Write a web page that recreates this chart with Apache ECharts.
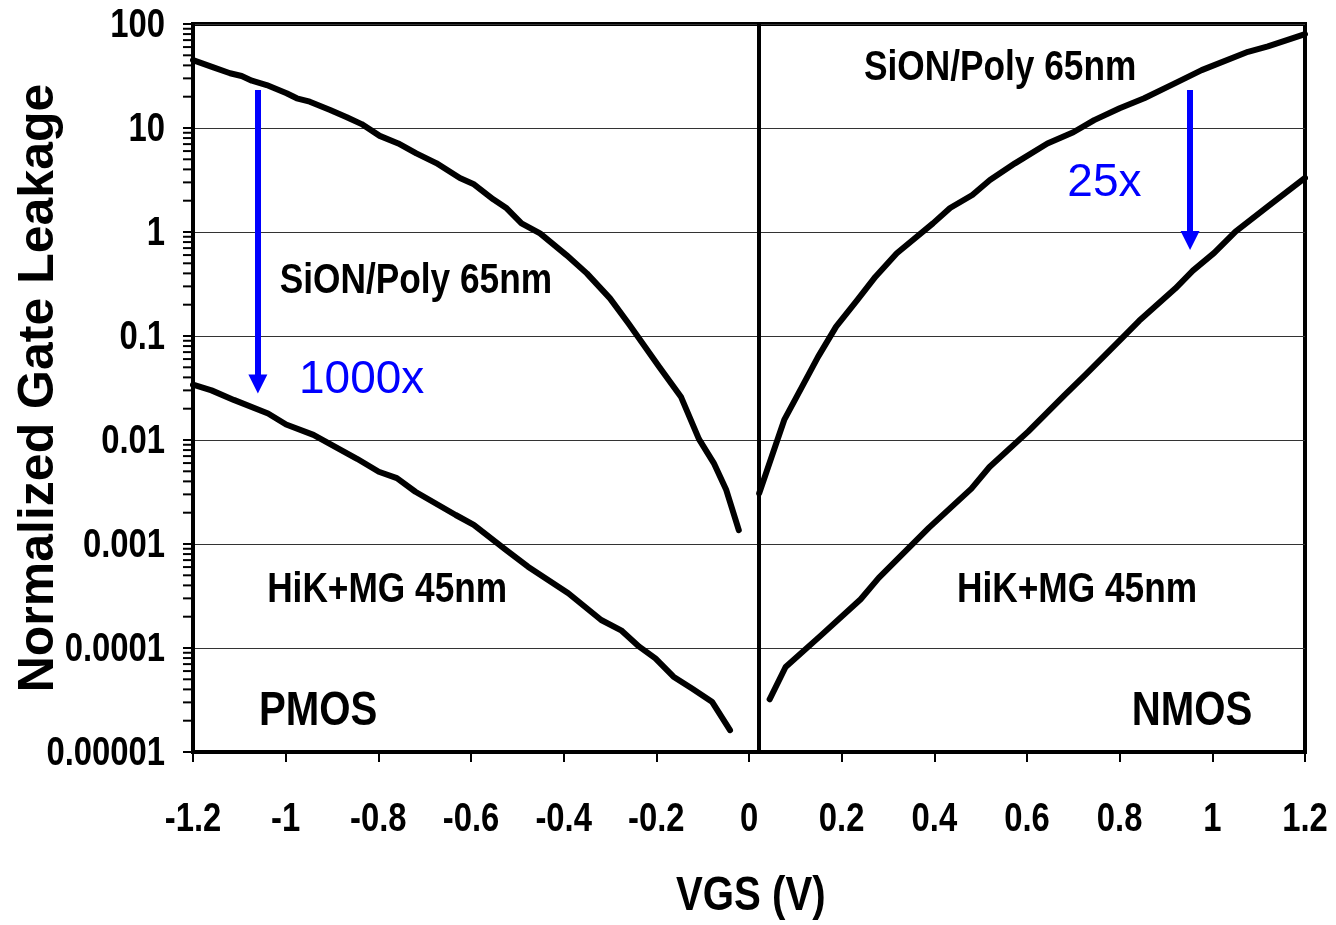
<!DOCTYPE html>
<html>
<head>
<meta charset="utf-8">
<title>Normalized Gate Leakage</title>
<script src="https://cdn.jsdelivr.net/npm/echarts@6/dist/echarts.min.js"></script>
<style>
  html, body { margin: 0; padding: 0; background: #fff; }
  #chart { width: 1336px; height: 925px; }
</style>
</head>
<body>
<div id="chart"></div>
<script>
// gate leakage vs VGS on a log scale, PMOS left half, NMOS right half

// axis tick labels
const xTickLabels = ['-1.2', '-1', '-0.8', '-0.6', '-0.4', '-0.2', '0', '0.2', '0.4', '0.6', '0.8', '1', '1.2']
const yTickLabels = ['0.00001', '0.0001', '0.001', '0.01', '0.1', '1', '10', '100']
// minor ticks inside each decade
const minorSteps = [2, 3, 4, 5, 6, 7, 8, 9]

// PMOS, SiON/Poly 65nm
const pmosSionVgs = [-1.2, -1.156, -1.12, -1.095, -1.073, -1.041, -0.998, -0.976, -0.948, -0.904, -0.868, -0.836,
    -0.797, -0.757, -0.718, -0.675, -0.624, -0.595, -0.552, -0.523, -0.491, -0.451, -0.394, -0.35, -0.3, -0.26,
    -0.194, -0.147, -0.108, -0.076, -0.049, -0.022]
const pmosSionLeak = [45, 38.3, 33.6, 31.6, 28.5, 25.9, 21.6, 19.3, 17.9, 14.9, 12.7, 10.9,
    8.4, 7.1, 5.7, 4.6, 3.3, 2.9, 2.06, 1.69, 1.21, 0.97, 0.6, 0.4, 0.23, 0.132,
    0.0507, 0.0261, 0.0102, 0.006, 0.0033, 0.00136]

// PMOS, HiK+MG 45nm
const pmosHikVgs = [-1.2, -1.16, -1.112, -1.038, -0.999, -0.94, -0.846, -0.799, -0.76, -0.72, -0.633, -0.594,
    -0.524, -0.477, -0.39, -0.319, -0.276, -0.237, -0.202, -0.163, -0.123, -0.08, -0.041]
const pmosHikLeak = [0.034, 0.03, 0.0243, 0.018, 0.0141, 0.0112, 0.0066, 0.00495, 0.0043, 0.00318, 0.0019, 0.00153,
    0.000875, 0.000605, 0.000336, 0.000186, 0.000148, 0.000103, 0.0000795, 0.000053, 0.0000408, 0.0000305, 0.0000162]

// NMOS, SiON/Poly 65nm
const nmosSionVgs = [0.022, 0.076, 0.103, 0.149, 0.188, 0.234, 0.273, 0.319, 0.397, 0.434, 0.482, 0.52, 0.574,
    0.644, 0.7, 0.745, 0.8, 0.853, 0.92, 0.977, 1.077, 1.12, 1.2]
const nmosSionLeak = [0.00307, 0.0156, 0.0261, 0.063, 0.123, 0.222, 0.372, 0.624, 1.21, 1.7, 2.27, 3.16, 4.57,
    7.1, 9.1, 11.9, 15.5, 19.3, 27, 36, 54, 61, 80]

// NMOS, HiK+MG 45nm
const nmosHikVgs = [0.0445, 0.079, 0.156, 0.241, 0.28, 0.388, 0.48, 0.519, 0.603, 0.68, 0.727, 0.804, 0.842,
    0.92, 0.958, 1.004, 1.05, 1.12, 1.2]
const nmosHikLeak = [0.0000321, 0.0000656, 0.000133, 0.000294, 0.000472, 0.00143, 0.00341, 0.0055, 0.0121, 0.0267,
    0.0428, 0.0944, 0.14, 0.286, 0.425, 0.63, 1.01, 1.76, 3.31]

const SANS = "'Liberation Sans', Arial, sans-serif"
const BLUE = '#0000ff'
// no narrow font is installed, so bold labels get squeezed horizontally
const NARROW = 0.82

// pair up x and y arrays for the library
const zip = (xs, ys) => xs.map((x, i) => [x, ys[i]])

// minor tick values from the decade labels
let minorTicks = []
yTickLabels.slice(0, -1).forEach(lab => {
    const d = Number(lab)
    minorSteps.forEach(m => minorTicks.push([-1.2, d * m]))
})

// every text drawn in chart coordinates (tick labels, notes, factors)
let texts = []
xTickLabels.forEach(lab => texts.push({ text: lab, at: [Number(lab), 0.00001], dy: 68, size: 40 }))
yTickLabels.forEach(lab => texts.push({ text: lab, at: [-1.2, Number(lab)], dx: -28, dy: 2, size: 40, align: 'right' }))
texts.push({ text: 'VGS (V)', at: [0.004, 0.00001], dy: 144, size: 49 })
texts.push({ text: 'SiON/Poly 65nm', at: [-0.719, 0.338], size: 43 })
texts.push({ text: 'HiK+MG 45nm', at: [-0.781, 0.000361], size: 43 })
texts.push({ text: 'PMOS', at: [-0.93, 0.0000243], size: 49 })
texts.push({ text: 'SiON/Poly 65nm', at: [0.542, 37.8], size: 43 })
texts.push({ text: 'HiK+MG 45nm', at: [0.708, 0.000361], size: 43 })
texts.push({ text: 'NMOS', at: [0.956, 0.0000243], size: 49 })
texts.push({ text: '1000x', at: [-0.836, 0.0377], size: 46, color: BLUE, plain: true })
texts.push({ text: '25x', at: [0.767, 2.92], size: 46, color: BLUE, plain: true })

const curve = (name, data) => ({
    name: name,
    type: 'line',
    data: data,
    showSymbol: false,
    silent: true,
    lineStyle: { color: '#000', width: 6, cap: 'round', join: 'round' },
    z: 3
})

const chart = echarts.init(document.getElementById('chart'))

const option = {
    animation: false,
    backgroundColor: '#fff',
    grid: {
        left: 193, right: 31, top: 24, bottom: 173,
        outerBoundsMode: 'none',
        containLabel: false,
        show: true, borderColor: '#000', borderWidth: 4
    },
    xAxis: {
        type: 'value',
        min: -1.2,
        max: 1.2,
        interval: 0.2,
        axisLine: { onZero: false, lineStyle: { color: '#000', width: 4 } },
        axisTick: { show: true, length: 10, lineStyle: { color: '#000', width: 2 } },
        axisLabel: { show: false },
        splitLine: { show: false }
    },
    yAxis: {
        type: 'log',
        logBase: 10,
        min: 0.00001,
        max: 100,
        interval: 1,
        name: 'Normalized Gate Leakage',
        nameLocation: 'middle',
        nameGap: 129,
        nameRotate: 90,
        nameTextStyle: { fontFamily: SANS, fontWeight: 'bold', fontSize: 50, color: '#000' },
        axisLine: { onZero: false, lineStyle: { color: '#000', width: 4 } },
        axisTick: { show: true, length: 10, lineStyle: { color: '#000', width: 2 } },
        axisLabel: { show: false },
        splitLine: { show: true, lineStyle: { color: '#333', width: 1 } }
    },
    series: [
        Object.assign(curve('PMOS SiON/Poly 65nm', zip(pmosSionVgs, pmosSionLeak)), {
            // divider between the PMOS and NMOS halves
            markLine: {
                silent: true,
                symbol: ['none', 'none'],
                label: { show: false },
                lineStyle: { color: '#000', width: 4, type: 'solid' },
                data: [{ xAxis: 0.017 }]
            }
        }),
        curve('PMOS HiK+MG 45nm', zip(pmosHikVgs, pmosHikLeak)),
        curve('NMOS SiON/Poly 65nm', zip(nmosSionVgs, nmosSionLeak)),
        curve('NMOS HiK+MG 45nm', zip(nmosHikVgs, nmosHikLeak)),
        {
            // minor ticks of the log axis (2..9 in each decade)
            name: 'minor ticks',
            type: 'custom',
            silent: true,
            data: minorTicks,
            renderItem: (params, api) => {
                const p = api.coord([api.value(0), api.value(1)])
                return {
                    type: 'line',
                    shape: { x1: p[0] - 10, y1: p[1], x2: p[0], y2: p[1] },
                    style: { stroke: '#000', lineWidth: 2 }
                }
            }
        },
        {
            name: 'texts',
            type: 'custom',
            silent: true,
            data: texts.map(t => t.at),
            renderItem: (params, api) => {
                const t = texts[params.dataIndex]
                const p = api.coord([api.value(0), api.value(1)])
                return {
                    type: 'text',
                    x: p[0] + (t.dx || 0),
                    y: p[1] + (t.dy || 0),
                    scaleX: t.plain ? 1 : NARROW,
                    style: {
                        text: t.text,
                        fill: t.color || '#000',
                        fontFamily: SANS,
                        fontWeight: t.plain ? 'normal' : 'bold',
                        fontSize: t.size,
                        align: t.align || 'center',
                        verticalAlign: 'middle'
                    }
                }
            },
            // blue arrows for the reduction factors
            markLine: {
                silent: true,
                symbol: ['none', 'triangle'],
                symbolSize: [19, 19],
                label: { show: false },
                lineStyle: { color: BLUE, width: 6, type: 'solid' },
                itemStyle: { color: BLUE },
                data: [
                    [{ coord: [-1.06, 23.2] }, { coord: [-1.06, 0.0346] }],
                    [{ coord: [0.952, 23.2] }, { coord: [0.952, 0.828] }]
                ]
            },
            z: 5
        }
    ]
}

chart.setOption(option)
</script>
</body>
</html>
